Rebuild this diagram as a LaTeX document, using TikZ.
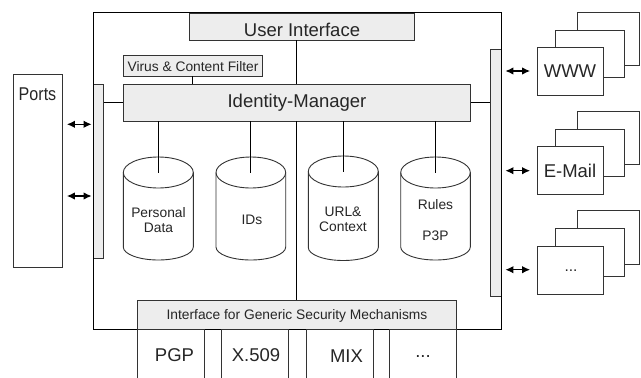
\documentclass[tikz,border=0pt]{standalone}
\usepackage{graphicx}
\usepackage{fontspec}
\setmainfont{Liberation Sans}
\usetikzlibrary{arrows.meta}
\definecolor{panel}{HTML}{EDEDED}
\definecolor{edge}{HTML}{333333}
\newcommand{\bx}[6][]{\node[shape=rectangle,inner sep=0pt,#1,minimum width={(#5-#3)*1pt},minimum height={(#6-#4)*1pt}] (#2) at ({(#3+#5)/2},{(#4+#6)/2}) {};}
\newcommand{\cyl}[5]{% name, left, right, top-centre y, bottom-side y
  \draw[wire,fill=white] (#2,#5) -- (#2,#4) arc[start angle=180,end angle=360,x radius={(#3-#2)/2},y radius=15.5]
    -- (#3,#5) arc[start angle=0,end angle=180,x radius={(#3-#2)/2},y radius=13];
  \draw[wire] (#2,#4) arc[start angle=180,end angle=0,x radius={(#3-#2)/2},y radius=15.5];
  \coordinate (#1) at ({(#2+#3)/2},#4);}
\tikzset{
  x=1pt,y=-1pt,
  wire/.style={draw=edge,line width=0.9pt},
  panelbox/.style={draw=edge,line width=0.9pt,fill=panel},
  plain/.style={draw=edge,line width=0.9pt,fill=white},
  framebox/.style={draw=black,line width=1.2pt},
  link/.style={draw=black,line width=1.1pt},
  biarrow/.style={draw=black,line width=1.2pt,{Latex[length=8pt,width=7.5pt]}-{Latex[length=8pt,width=7.5pt]}},
  lbl/.style={inner sep=0pt,text=black!85,font=\fontsize{18.5}{20}\selectfont},
  small/.style={inner sep=0pt,text=black!85,font=\fontsize{13.8}{15}\selectfont,align=center},
}
\begin{document}
\begin{tikzpicture}
\useasboundingbox (0,0) rectangle (641,378);
\bx[]{mainref}{93.5}{12.5}{501.5}{329.5}
\bx[panelbox]{ui}{189.5}{13}{414.7}{40}
\bx[panelbox]{filter}{123.5}{55.5}{262.5}{76}
\bx[panelbox]{idm}{123.5}{84}{470.3}{121}
\bx[panelbox]{lbar}{93.5}{84}{103.5}{258}
\bx[panelbox]{rbar}{490.3}{49}{501.5}{296.3}
\bx[panelbox]{gsm}{137.7}{300.7}{456.3}{329.5}
\bx[plain]{ports}{13.5}{74.5}{62.5}{267.3}
% connectors
\coordinate (sp) at (296.7,0);
\coordinate (fl) at (192.7,0);
\coordinate (hl) at (0,102.7);
\draw[link] (ui.south -| sp) -- (idm.north -| sp);
\draw[link] (idm.south -| sp) -- (gsm.north -| sp);
\draw[link] (filter.south -| fl) -- (idm.north -| fl);
\draw[link] (lbar.east |- hl) -- (idm.west |- hl);
\draw[link] (idm.east |- hl) -- (rbar.west |- hl);
% cylinders
\cyl{c1}{123.3}{193.3}{172.5}{247}
\cyl{c2}{216}{285.7}{172.5}{247}
\cyl{c3}{308.3}{378.3}{171.5}{247.5}
\cyl{c4}{400.7}{470.3}{172.5}{247}
\draw[link] (idm.south -| c1) -- (c1);
\draw[link] (idm.south -| c2) -- (c2);
\draw[link] (idm.south -| c3) -- (c3);
\draw[link] (idm.south -| c4) -- (c4);
% main frame
\node[framebox,shape=rectangle,inner sep=0pt,minimum width=408pt,minimum height=317pt] (main) at (mainref) {};
% bottom boxes
\bx[wire]{pgp}{137.7}{329.5}{204.7}{385}
\bx[wire]{xfn}{221.7}{329.5}{288.7}{385}
\bx[wire]{mix}{306}{329.5}{373}{385}
\bx[wire]{more}{389.3}{329.5}{456.3}{385}
% right stacks
\bx[plain]{w3}{577}{12.5}{639.3}{65.7}
\bx[plain]{w2}{555.7}{30}{624}{77.7}
\bx[plain]{w1}{537}{47.7}{603}{95.7}
\bx[plain]{e3}{577}{111.3}{639.3}{164.7}
\bx[plain]{e2}{555.7}{129.3}{624}{176.7}
\bx[plain]{e1}{537}{146.7}{603}{194.7}
\bx[plain]{d3}{577}{210.3}{639.3}{264.3}
\bx[plain]{d2}{555.7}{228.3}{624}{276.3}
\bx[plain]{d1}{537}{246}{603}{294}
% arrows
\coordinate (pa) at (0,124.3);
\coordinate (pb) at (0,196);
\draw[biarrow,shorten <=4pt,shorten >=1.5pt] (ports.east |- pa) -- (lbar.west |- pa);
\draw[biarrow,shorten <=4pt,shorten >=1.5pt] (ports.east |- pb) -- (lbar.west |- pb);
\coordinate (wa) at (0,71);
\coordinate (ea) at (0,170.7);
\coordinate (da) at (0,269.7);
\draw[biarrow,shorten <=3.5pt,shorten >=6.5pt] (rbar.east |- wa) -- (w1.west |- wa);
\draw[biarrow,shorten <=3.5pt,shorten >=6.5pt] (rbar.east |- ea) -- (e1.west |- ea);
\draw[biarrow,shorten <=3.5pt,shorten >=6.5pt] (rbar.east |- da) -- (d1.west |- da);
% texts
\node[lbl] (tui) at (302,30) {User Interface};
\node[lbl] (tidm) at (297,103) {Identity-Manager};
\node[small] (tfil) at (193,66.5) {Virus \& Content Filter};
\node[lbl] (tports) at (37.5,94) {\scalebox{.87}[1]{Ports}};
\node[small] (tc1) at (158.5,220) {Personal\\Data};
\node[small] (tc2) at (252,220) {IDs};
\node[small] (tc3) at (343,219.5) {URL\&\\Context};
\node[small] (tc4) at (435.5,204.5) {Rules};
\node[small] (tc5) at (435.5,235.5) {P3P};
\node[small] (tgsm) at (297,316) {Interface for Generic Security Mechanisms};
\node[lbl] (tpgp) at (174.5,355) {PGP};
\node[lbl] (txfn) at (256,355) {X.509};
\node[lbl] (tmix) at (346.5,356) {MIX};
\node[lbl] (tmore) at (423,356.5) {...};
\node[lbl] (tw) at (570,71.5) {WWW};
\node[lbl] (te) at (570,171) {E-Mail};
\node[lbl,font=\fontsize{15.5}{17}\selectfont] (td) at (571,271) {...};
\end{tikzpicture}
\end{document}
